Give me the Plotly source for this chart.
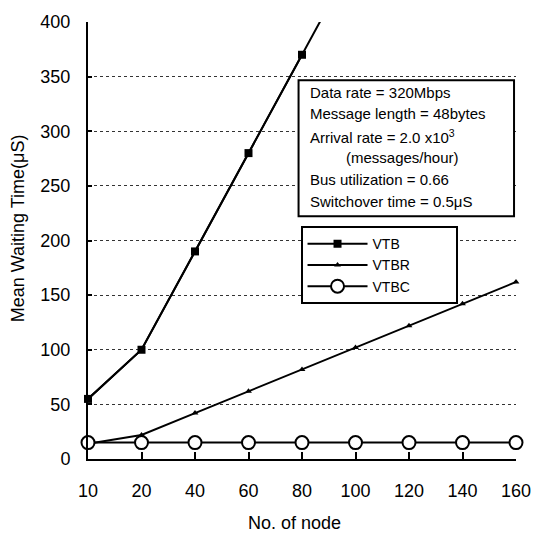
import plotly.graph_objects as go

# data
nodes = ["10", "20", "40", "60", "80", "100", "120", "140", "160"]
vtb = [55, 100, 190, 280, 370, 460]          # last point is off the top of the chart
vtbr = [14, 22, 42, 62, 82, 102, 122, 142, 162]
vtbc = [15, 15, 15, 15, 15, 15, 15, 15, 15]
y_ticks = [0, 50, 100, 150, 200, 250, 300, 350, 400]

info_lines = [
    "Data rate = 320Mbps",
    "Message length = 48bytes",
    "Arrival rate = 2.0 x10<sup>3</sup>",
    "(messages/hour)",
    "Bus utilization = 0.66",
    "Switchover time = 0.5\u03bcS",
]

W, H = 543, 537
L, R, T, B = 88, 20, 16, 78
FONT = "Liberation Sans, Arial, sans-serif"


def px_x(p):
    return (p - L) / (W - L - R)


def px_y(p):
    return (H - B - p) / (H - T - B)


fig = go.Figure()

# VTB: line runs off the top, so draw the line clipped and the markers unclipped
fig.add_trace(go.Scatter(
    x=nodes[:len(vtb)], y=vtb, mode="lines", showlegend=False,
    line=dict(color="black", width=2), hoverinfo="skip",
))
fig.add_trace(go.Scatter(
    x=nodes[:5], y=vtb[:5], mode="lines+markers", name="VTB" + "\u00a0" * 13,
    line=dict(color="black", width=2),
    marker=dict(symbol="square", size=8, color="black"),
    cliponaxis=False,
))
fig.add_trace(go.Scatter(
    x=nodes, y=vtbr, mode="lines+markers", name="VTBR",
    line=dict(color="black", width=2),
    marker=dict(symbol="triangle-up", size=6, color="black"),
    cliponaxis=False,
))
fig.add_trace(go.Scatter(
    x=nodes, y=vtbc, mode="lines+markers", name="VTBC",
    line=dict(color="black", width=2),
    marker=dict(symbol="circle", size=13, color="white",
                line=dict(color="black", width=2)),
    cliponaxis=False,
))

fig.update_xaxes(
    type="category", range=[0, 8], showgrid=False,
    showline=True, linecolor="black", linewidth=2,
    ticks="inside", ticklen=7, tickwidth=2, tickcolor="black",
    ticklabelstandoff=14,
    tickfont=dict(family=FONT, size=18, color="black"),
)
fig.update_yaxes(
    range=[0, 400], tickvals=y_ticks, zeroline=False,
    showgrid=True, gridcolor="#333", gridwidth=1, griddash="dot",
    showline=True, linecolor="black", linewidth=2,
    ticks="inside", ticklen=4, tickwidth=2, tickcolor="black",
    ticklabelstandoff=12,
    tickfont=dict(family=FONT, size=18, color="black"),
)

# parameter box
fig.add_shape(type="rect", xref="paper", yref="paper",
              x0=px_x(302), x1=px_x(521), y0=px_y(213), y1=px_y(75),
              line=dict(color="black", width=2), fillcolor="white", layer="above")
line_y = [87, 109, 132, 153, 176, 198]
for i, txt in enumerate(info_lines):
    fig.add_annotation(
        text=txt, xref="paper", yref="paper",
        x=px_x(348 if i == 3 else 312), y=px_y(line_y[i]),
        xanchor="left", yanchor="middle", showarrow=False,
        font=dict(family=FONT, size=15, color="black"),
    )

# axis titles
fig.add_annotation(text="No. of node", xref="paper", yref="paper",
                   x=px_x(298), y=px_y(524), xanchor="center", yanchor="middle",
                   showarrow=False, font=dict(family=FONT, size=18, color="black"))
fig.add_annotation(text="Mean Waiting Time(\u03bcS)", xref="paper", yref="paper",
                   x=px_x(17), y=px_y(225), xanchor="center", yanchor="middle",
                   textangle=-90, showarrow=False,
                   font=dict(family=FONT, size=18, color="black"))

fig.update_layout(
    width=W, height=H,
    margin=dict(l=L, r=R, t=T, b=B),
    plot_bgcolor="white", paper_bgcolor="white",
    legend=dict(
        x=px_x(304), y=px_y(223), xanchor="left", yanchor="top",
        bgcolor="white", bordercolor="black", borderwidth=2,
        itemwidth=60, tracegroupgap=0,
        font=dict(family=FONT, size=14, color="black"),
    ),
)

# drop the default body margin so the figure sits at the page corner
fig.write_html("out.html", config={"displayModeBar": False},
               post_script="document.body.style.margin='0';")
